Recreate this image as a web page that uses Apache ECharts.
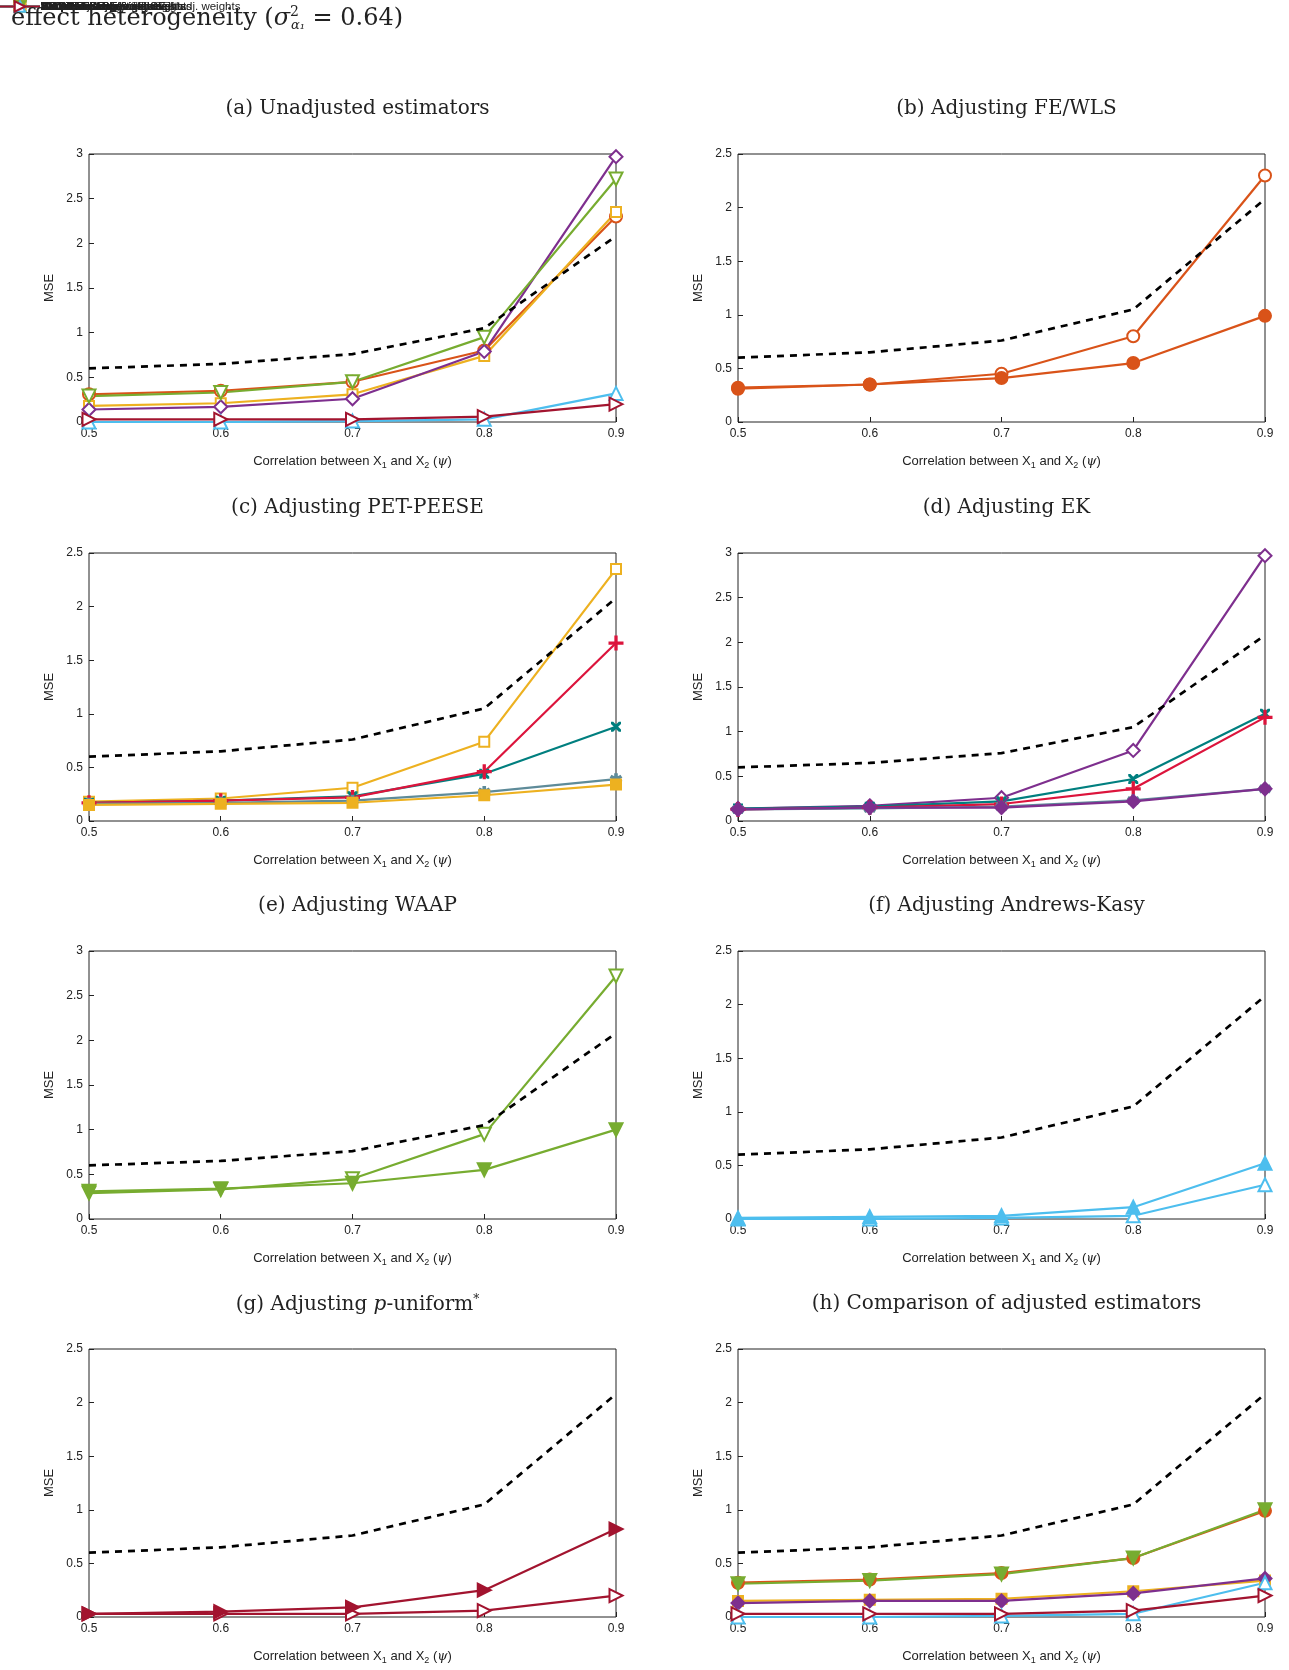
<!DOCTYPE html>
<html>
<head>
<meta charset="utf-8">
<script src="https://cdn.jsdelivr.net/npm/echarts@6/dist/echarts.min.js"></script>
<style>html,body{margin:0;padding:0;background:#fff}</style>
</head>
<body>
<div id="chart" style="width:1289px;height:1670px"></div>
<script>
// x values (correlation between X1 and X2)
var psi = [0.5, 0.6, 0.7, 0.8, 0.9];

var simpleAvg = [0.60, 0.65, 0.76, 1.05, 2.08];
var feWls = [0.31, 0.35, 0.45, 0.80, 2.30];
var feWlsAdj = [0.32, 0.35, 0.41, 0.55, 0.99];
var petPeese = [0.18, 0.21, 0.31, 0.74, 2.35];
var petAdjW = [0.17, 0.19, 0.23, 0.44, 0.88];
var petInstr = [0.17, 0.19, 0.22, 0.46, 1.66];
var petInstrAdj = [0.16, 0.17, 0.19, 0.27, 0.39];
var maive = [0.15, 0.16, 0.17, 0.24, 0.34];
var ek = [0.14, 0.17, 0.26, 0.79, 2.97];
var ekAdjW = [0.14, 0.16, 0.22, 0.47, 1.20];
var ekInstr = [0.13, 0.15, 0.19, 0.36, 1.16];
var ekInstrAdj = [0.13, 0.14, 0.16, 0.23, 0.36];
var ekNoW = [0.13, 0.15, 0.15, 0.22, 0.36];
var waap = [0.29, 0.33, 0.45, 0.95, 2.72];
var waapAdj = [0.31, 0.34, 0.40, 0.55, 1.00];
var ak = [0.0, 0.0, 0.01, 0.03, 0.32];
var akAdj = [0.01, 0.02, 0.03, 0.11, 0.52];
var pu = [0.03, 0.03, 0.03, 0.06, 0.20];
var puAdj = [0.03, 0.05, 0.09, 0.25, 0.82];

var C = {
  fe: '#D95319', pet: '#EDB120', ek: '#7E2F8E', waap: '#77AC30',
  ak: '#4DBEEE', pu: '#A2142F', teal: '#007F7F', red: '#DC143C', gray: '#5E8B99'
};
var crossPath = 'path://M0,0L1,0L10,9L10,10L9,10L0,1Z M9,0L10,0L10,1L1,10L0,10L0,9Z';
var plusPath = 'path://M4.5,0H5.5V4.5H10V5.5H5.5V10H4.5V5.5H0V4.5H4.5Z';
var starPath = 'path://M4.3,0H5.7V3.3L8.6,1.6L9.3,2.8L6.4,4.5L9.3,6.2L8.6,7.4L5.7,5.7V9H4.3V5.7L1.4,7.4L0.7,6.2L3.6,4.5L0.7,2.8L1.4,1.6L4.3,3.3Z';

// series style presets
var S = {
  avg: {name: 'Simple Average', data: simpleAvg, color: '#000', dash: true},
  fe: {name: 'FE/WLS', data: feWls, color: C.fe, symbol: 'emptyCircle', size: 12},
  feAdj: {name: 'FE/WLS w/ adj. weights', data: feWlsAdj, color: C.fe, symbol: 'circle', size: 12},
  pet: {name: 'PET-PEESE', data: petPeese, color: C.pet, symbol: 'emptyRect', size: 10},
  petAdjW: {name: 'PET-PEESE w/ adj. weights', data: petAdjW, color: C.teal, symbol: crossPath, size: 8},
  petInstr: {name: 'PET-PEESE w/ instr. SE', data: petInstr, color: C.red, symbol: plusPath, size: 13},
  petInstrAdj: {name: 'PET-PEESE w/ instr. SE & adj. weights', data: petInstrAdj, color: C.gray, symbol: starPath, size: 10},
  maive: {name: 'MAIVE', data: maive, color: C.pet, symbol: 'rect', size: 10},
  ek: {name: 'EK', data: ek, color: C.ek, symbol: 'emptyDiamond', size: 13},
  ekAdjW: {name: 'EK w/ adj. weights', data: ekAdjW, color: C.teal, symbol: crossPath, size: 8},
  ekInstr: {name: 'EK w/ instr. SE', data: ekInstr, color: C.red, symbol: plusPath, size: 13},
  ekInstrAdj: {name: 'EK w/ instr. SE & adj. weights', data: ekInstrAdj, color: C.gray, symbol: starPath, size: 10},
  ekNoW: {name: 'EK w/ instr. SE & no weights', data: ekNoW, color: C.ek, symbol: 'diamond', size: 13},
  waap: {name: 'WAAP', data: waap, color: C.waap, symbol: 'emptyTriangle', size: 13, rot: 180},
  waapAdj: {name: 'WAAP w/ adj. weights', data: waapAdj, color: C.waap, symbol: 'triangle', size: 13, rot: 180},
  ak: {name: 'Andrews-Kasy', data: ak, color: C.ak, symbol: 'emptyTriangle', size: 13},
  akAdj: {name: 'Andrews-Kasy w/ adj. SE', data: akAdj, color: C.ak, symbol: 'triangle', size: 13},
  pu: {name: 'P-uniform', data: pu, color: C.pu, symbol: 'emptyTriangle', size: 13, rot: -90},
  puAdj: {name: 'P-uniform w/ adj. SE', data: puAdj, color: C.pu, symbol: 'triangle', size: 13, rot: -90}
};

var panels = [
  {title: '(a) Unadjusted estimators', max: 3, keys: ['avg','fe','pet','ek','waap','ak','pu'], leg: [285, 165]},
  {title: '(b) Adjusting FE/WLS', max: 2.5, keys: ['avg','fe','feAdj'], leg: [1045, 230]},
  {title: '(c) Adjusting PET-PEESE', max: 2.5, keys: ['avg','pet','petAdjW','petInstr','petInstrAdj','maive'], leg: [228, 570]},
  {title: '(d) Adjusting EK', max: 3, keys: ['avg','ek','ekAdjW','ekInstr','ekInstrAdj','ekNoW'], leg: [768, 570]},
  {title: '(e) Adjusting WAAP', max: 3, keys: ['avg','waap','waapAdj'], leg: [138, 956]},
  {title: '(f) Adjusting Andrews-Kasy', max: 2.5, keys: ['avg','ak','akAdj'], leg: [1043, 1024]},
  {title: '{n|(g) Adjusting }{i|p}{n|-uniform}{sup|*}', max: 2.5, keys: ['avg','pu','puAdj'], leg: [99, 1352]},
  {title: '(h) Comparison of adjusted estimators', max: 2.5, keys: ['avg','feAdj','maive','ekNoW','waapAdj','ak','pu'], leg: [770, 1355]}
];

var serif = 'DejaVu Serif';
var option = {
  animation: false,
  backgroundColor: '#fff',
  title: [{
    text: '{n|effect heterogeneity (}{i|σ}{sup|2}{sub|α₁}{n| = 0.64)}',
    left: 6, top: 0,
    textStyle: {
      fontWeight: 'normal',
      rich: {
        n: {fontFamily: serif, fontSize: 24, color: '#222', fontWeight: 'normal'},
        i: {fontFamily: serif, fontStyle: 'italic', fontSize: 24, color: '#222', fontWeight: 'normal'},
        sup: {fontFamily: serif, fontSize: 14, color: '#222', fontWeight: 'normal', padding: [0, 0, 12, 0]},
        sub: {fontFamily: serif, fontStyle: 'italic', fontSize: 13, color: '#222', fontWeight: 'normal', padding: [14, 0, 0, -8]}
      }
    }
  }],
  grid: [], xAxis: [], yAxis: [], legend: [], series: []
};

var colLeft = [89, 738], rowTop = [154, 553, 951, 1349], W = 527, H = 268;
panels.forEach(function (p, k) {
  var col = k % 2, row = Math.floor(k / 2);
  var left = colLeft[col], top = rowTop[row];
  option.title.push({
    text: p.title,
    left: left + W / 2, top: top - 60, textAlign: 'center',
    textStyle: {fontFamily: serif, fontSize: 20, fontWeight: 'normal', color: '#222',
      rich: {
        n: {fontFamily: serif, fontSize: 20, color: '#222'},
        i: {fontFamily: serif, fontStyle: 'italic', fontSize: 20, color: '#222'},
        sup: {fontFamily: serif, fontSize: 12, color: '#222', padding: [0, 0, 10, 0]}
      }}
  });
  option.grid.push({left: left, top: top, width: W, height: H, show: true, borderColor: '#222', borderWidth: 1});
  option.xAxis.push({
    type: 'value', gridIndex: k, min: 0.5, max: 0.9, interval: 0.1,
    axisLine: {show: false}, splitLine: {show: false},
    axisTick: {inside: true, length: 5, lineStyle: {color: '#222'}},
    axisLabel: {formatter: function (v) { return v.toFixed(1); }, fontSize: 12, color: '#222', margin: 6, fontFamily: 'Liberation Sans'},
    name: '{n|Correlation between X}{s|1}{n| and X}{s|2}{n| (}{i|ψ}{n|)}',
    nameLocation: 'middle', nameGap: 31,
    nameTextStyle: {rich: {
      n: {fontSize: 13, color: '#222', fontFamily: 'Liberation Sans'},
      s: {fontSize: 9, color: '#222', fontFamily: 'Liberation Sans', padding: [8, 0, 0, 0]},
      i: {fontSize: 13, color: '#222', fontFamily: serif, fontStyle: 'italic'}
    }}
  });
  option.yAxis.push({
    type: 'value', gridIndex: k, min: 0, max: p.max, interval: 0.5,
    axisLine: {show: false}, splitLine: {show: false},
    axisTick: {show: true, inside: true, length: 5, lineStyle: {color: '#222'}},
    axisLabel: {fontSize: 12, color: '#222', margin: 6, fontFamily: 'Liberation Sans'},
    name: 'MSE', nameLocation: 'middle', nameGap: 33,
    nameTextStyle: {fontSize: 13, color: '#222', fontFamily: 'Liberation Sans'}
  });
  var legData = [];
  p.keys.forEach(function (key) {
    var s = S[key];
    legData.push(s.dash ? {name: s.name, icon: 'path://M0,0', itemStyle: {opacity: 0}} : {name: s.name});
    option.series.push({
      type: 'line', name: s.name, xAxisIndex: k, yAxisIndex: k,
      data: psi.map(function (x, i) { return [x, s.data[i]]; }),
      color: s.color,
      symbol: s.dash ? 'none' : s.symbol, symbolSize: s.size || 0, symbolRotate: s.rot || 0,
      showAllSymbol: true,
      lineStyle: {width: s.dash ? 2.7 : 2.2, type: s.dash ? [7, 6] : 'solid', color: s.color},
      itemStyle: {color: s.color, borderWidth: 2, borderColor: s.color},
      z: s.dash ? 3 : 2
    });
  });
  option.legend.push({
    data: legData, left: p.leg[0], top: p.leg[1], orient: 'vertical',
    borderColor: '#222', borderWidth: 1, padding: [2, 5, 2, 4], itemGap: 3,
    itemWidth: 40, itemHeight: 13, selectedMode: false, backgroundColor: '#fff',
    textStyle: {fontSize: 11.5, color: '#222', fontFamily: 'Liberation Sans', padding: [0, 0, 0, -4]}
  });
});

var chart = echarts.init(document.getElementById('chart'));
chart.setOption(option);
</script>
</body>
</html>
